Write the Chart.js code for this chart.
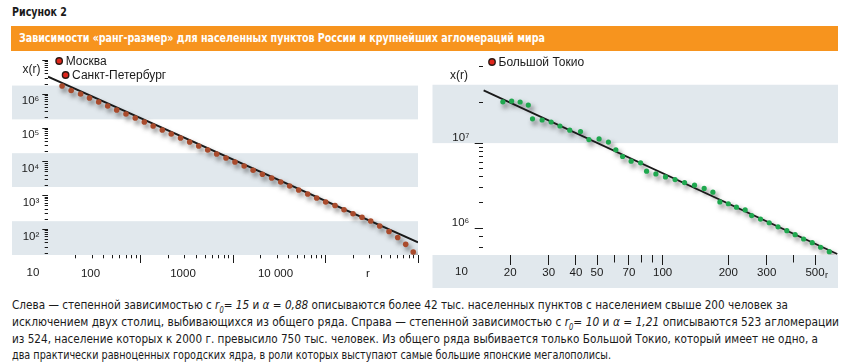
<!DOCTYPE html>
<html lang="ru">
<head>
<meta charset="utf-8">
<title>Рисунок 2</title>
<script src="https://cdn.jsdelivr.net/npm/chart.js@4.4.1/dist/chart.umd.min.js"></script>
<style>
  html, body { margin: 0; padding: 0; background: #fff; }
  body { width: 850px; height: 362px; position: relative; overflow: hidden; color: #1a1a1a;
         font-family: "Liberation Sans Narrow", "DejaVu Sans Condensed", "Liberation Sans", Arial, sans-serif; }
  .fit { position: absolute; white-space: nowrap; transform-origin: 0 50%; }
  #fig { left: 12px; top: 4px; font-size: 13px; line-height: 16px; font-weight: bold; }
  #banner { position: absolute; left: 11px; top: 26px; width: 827px; height: 25px; background: #F7941E; }
  #bannerText { left: 19px; top: 26px; font-size: 12px; line-height: 25px; font-weight: bold; color: #fff; }
  .cap { left: 12px; font-size: 12.5px; line-height: 16px; }
  canvas { position: absolute; top: 40px; }
  #left { left: 0; }
  #right { left: 430px; }
</style>
</head>
<body>
<div id="fig" class="fit" data-w="55">Рисунок 2</div>
<div id="banner"></div>
<div id="bannerText" class="fit" data-w="526">Зависимости «ранг-размер» для населенных пунктов России и крупнейших агломераций мира</div>

<canvas id="left" width="428" height="250"></canvas>
<canvas id="right" width="420" height="250"></canvas>

<div class="cap fit" style="top:297px" data-w="776">Слева — степенной зависимостью с <i>r<sub style="font-size:8px">0</sub>= 15</i> и <i>α = 0,88</i> описываются более 42 тыс. населенных пунктов с населением свыше 200 человек за</div>
<div class="cap fit" style="top:314px" data-w="827">исключением двух столиц, выбивающихся из общего ряда. Справа — степенной зависимостью с <i>r<sub style="font-size:8px">0</sub>= 10</i> и <i>α = 1,21</i> описываются 523 агломерации</div>
<div class="cap fit" style="top:331px" data-w="806">из 524, население которых к 2000 г. превысило 750 тыс. человек. Из общего ряда выбивается только Большой Токио, который имеет не одно, а</div>
<div class="cap fit" style="top:347px" data-w="599">два практически равноценных городских ядра, в роли которых выступают самые большие японские мегалополисы.</div>

<script>
// ---- left panel: settlements of Russia (rank r, population x(r)) ----
const leftRank = [14.2, 17.8, 22.5, 28.1, 35.3, 44.2, 55.3, 69.7, 87.7, 110, 137, 172, 215, 271, 340, 426,
  533, 666, 840, 1050, 1320, 1650, 2080, 2620, 3280, 4100, 5130, 6420, 8030, 10050, 12670, 15850, 19830,
  24810, 30810, 38540, 48600, 60340, 73620, 88770];
const leftPop = [1748000, 1287000, 1014000, 772000, 588000, 448000, 341000, 260000, 197600, 150500, 114600,
  87300, 66400, 50600, 38500, 29300, 22340, 17010, 12950, 9860, 7510, 5600, 4300, 3320, 2530, 1923, 1465,
  1115, 849, 647, 510, 380, 291, 228, 177, 126, 86.7, 57.6, 36.2, 21.4];
const capitalNames = ['Москва', 'Санкт-Петербург'];
const capitalRank = [13.2, 15.5];
const capitalPop = [9.6e6, 3.7e6];
const leftFitRank = [10, 100000];
const leftFitPop = [3.3e6, 41.5];

const leftXTicks = [100, 1000, 10000, 100000];
const leftXLabels = ['100', '1000', '10 000', 'r'];
const leftYTicks = [100, 1e3, 1e4, 1e5, 1e6, 1e7];
const leftYLabels = ['10²', '10³', '10⁴', '10⁵', '10⁶', ''];
const leftBands = [[17.5, 175], [1800, 18000], [180000, 1800000]];

// ---- right panel: world agglomerations ----
const rightRank = [18.5, 20.3, 22.2, 24.2, 25.3, 28.0, 30.8, 33.8, 37.5, 42.0, 45.9, 51.1, 56.4, 61.0, 65.5,
  71.7, 79.2, 84.4, 93.1, 103, 114, 126, 140, 155, 170, 183, 200, 218, 239, 256, 281, 308, 338, 371, 405,
  443, 485, 530, 581];
const rightPop = [30.6e6, 31.2e6, 30.4e6, 28.0e6, 19.3e6, 18.7e6, 17.7e6, 15.9e6, 14.2e6, 13.7e6, 11.0e6,
  11.2e6, 10.3e6, 8.34e6, 6.96e6, 6.14e6, 5.87e6, 4.68e6, 4.35e6, 4.01e6, 3.73e6, 3.44e6, 3.21e6, 2.94e6,
  2.65e6, 2.04e6, 1.94e6, 1.77e6, 1.64e6, 1.41e6, 1.28e6, 1.16e6, 1.04e6, 937000, 841000, 748000, 677000,
  598000, 530000];
const tokyoNames = ['Большой Токио'];
const tokyoRank = [16.5];
const tokyoPop = [8.98e7];
const rightFitRank = [15.1, 632];
const rightFitPop = [4.16e7, 4.99e5];

const rightXTicks = [20, 30, 40, 50, 70, 100, 200, 300, 500];
const rightXLabels = ['20', '30', '40', '50', '70', '100', '200', '300', '500'];
const rightXMinor = [60, 80, 90, 400];
const rightYTicks = [1e6, 1e7];
const rightYLabels = ['10⁶', '10⁷'];
const rightYMinor = [6e5, 8e5, 2e6, 3e6, 4e6, 5e6, 6e6, 7e6, 8e6, 9e6, 3e7, 8e7];
const rightBands = [[1e7, 4.85e7]];

const INK = '#1a1a1a';
const BAND = '#E1E8ED';
const TICK_FONT = { family: '"Liberation Sans", Arial, sans-serif', size: 11.5 };
Chart.defaults.font.family = TICK_FONT.family;
Chart.defaults.color = INK;

const zip = (xs, ys) => xs.map((x, i) => ({ x, y: ys[i] }));

// 2..9 multiples of every decade between lo and hi
function decadeMinors(lo, hi) {
  const out = [];
  for (let d = lo; d < hi; d *= 10) for (let k = 2; k <= 9; k++) out.push(k * d);
  return out;
}

const same = (a, b) => Math.abs(a - b) / b < 1e-9;

function logAxis({ pos, min, max, ticks, labels, minor, tickLen, minorLen, pad, offset, size }) {
  const all = ticks.concat(minor).sort((a, b) => a - b);
  const isMain = v => ticks.some(t => same(v, t));
  return {
    type: 'logarithmic', position: pos, min, max,
    border: { display: false },
    grid: {
      drawOnChartArea: false, drawTicks: true, tickLength: tickLen, tickWidth: 1, tickColor: INK,
      tickBorderDash: ctx => {
        if (!ctx.tick || isMain(ctx.tick.value)) return [];
        // left axes draw ticks from outside in, bottom axes from the axis down
        return pos === 'left' ? [0, tickLen - minorLen, minorLen, 100] : [minorLen, 100];
      }
    },
    ticks: {
      autoSkip: false, maxRotation: 0, minRotation: 0, padding: pad, labelOffset: offset,
      color: INK, font: TICK_FONT,
      callback: v => { const i = ticks.findIndex(t => same(v, t)); return i < 0 ? '' : labels[i]; }
    },
    afterBuildTicks: s => { s.ticks = all.map(v => ({ value: v })); },
    afterFit: s => { if (pos === 'left') s.width = size; else s.height = size; }
  };
}

function bandsPlugin(ranges, extendLeft, axisBar) {
  return {
    id: 'bands',
    beforeDraw(chart) {
      const { ctx, chartArea: a, scales: { y } } = chart;
      const left = a.left - extendLeft;
      ctx.save();
      ctx.fillStyle = BAND;
      ranges.forEach(([lo, hi]) => {
        const top = Math.max(y.getPixelForValue(hi), a.top);
        const bot = Math.min(y.getPixelForValue(lo), a.bottom);
        ctx.fillRect(left, top, a.right - left, bot - top);
      });
      if (axisBar) ctx.fillRect(left, a.bottom, a.right - left, axisBar);
      ctx.restore();
    }
  };
}

const shadowPlugin = {
  id: 'dotShadow',
  beforeDatasetDraw(chart, args) {
    if (!chart.data.datasets[args.index].shadow) return;
    const c = chart.ctx;
    c.save();
    c.shadowColor = 'rgba(35,35,35,0.7)';
    c.shadowBlur = 5;
    c.shadowOffsetX = 2.5;
    c.shadowOffsetY = 3.5;
  },
  afterDatasetDraw(chart, args) {
    if (chart.data.datasets[args.index].shadow) chart.ctx.restore();
  }
};

// axis captions and the names of the highlighted cities
function notesPlugin(cfg) {
  return {
    id: 'notes',
    afterDraw(chart) {
      const { ctx, chartArea: a } = chart;
      ctx.save();
      ctx.fillStyle = INK;
      ctx.textBaseline = 'middle';
      ctx.font = '12px "Liberation Sans", Arial, sans-serif';
      ctx.textAlign = 'center';
      ctx.fillText('x(r)', a.left + cfg.xr[0], a.top + cfg.xr[1]);
      ctx.font = '11.5px "Liberation Sans", Arial, sans-serif';
      ctx.fillText('10', a.left + cfg.ten[0], a.bottom + cfg.ten[1]);
      ctx.font = '12px "Liberation Sans", Arial, sans-serif';
      ctx.textAlign = 'left';
      const ds = chart.data.datasets.find(d => d.names);
      const meta = chart.getDatasetMeta(chart.data.datasets.indexOf(ds));
      meta.data.forEach((pt, i) => ctx.fillText(ds.names[i], pt.x + 6.5, pt.y + 0.5));
      if (cfg.sub) {
        ctx.font = '9px "Liberation Sans", Arial, sans-serif';
        ctx.fillText('r', chart.scales.x.getPixelForValue(cfg.sub) + 10, a.bottom + 21);
      }
      ctx.restore();
    }
  };
}

function panel(id, o) {
  return new Chart(document.getElementById(id), {
    type: 'scatter',
    data: {
      datasets: [
        { data: o.fit, showLine: true, borderColor: INK, borderWidth: 1.8, pointRadius: 0, order: 3 },
        { data: o.points, backgroundColor: o.color, borderWidth: 0, pointRadius: o.radius, shadow: true, order: 2 },
        { data: o.cities, names: o.names, backgroundColor: '#E0261B', borderColor: '#2e1a14',
          borderWidth: 1.4, pointRadius: 3.2, order: 1 }
      ]
    },
    options: {
      responsive: false, animation: false, devicePixelRatio: 1, events: [],
      layout: { padding: o.padding, autoPadding: false },
      plugins: { legend: { display: false }, tooltip: { enabled: false } },
      scales: { x: o.x, y: o.y }
    },
    plugins: [bandsPlugin(o.bands, o.extendLeft, o.axisBar), shadowPlugin, notesPlugin(o.notes)]
  });
}

panel('left', {
  points: zip(leftRank, leftPop),
  cities: zip(capitalRank, capitalPop),
  names: capitalNames,
  fit: zip(leftFitRank, leftFitPop),
  color: '#A94B2C', radius: 2.8,
  padding: { left: 0, top: 17, right: 10, bottom: 5 },
  bands: leftBands, extendLeft: 36, axisBar: 0,
  notes: { xr: [-16.5, 13], ten: [-15, 18.3] },
  x: logAxis({ pos: 'bottom', min: 10, max: 100000, ticks: leftXTicks, labels: leftXLabels,
    minor: decadeMinors(10, 100000), tickLen: 8, minorLen: 3.3, pad: 4, offset: -50, size: 30 }),
  y: logAxis({ pos: 'left', min: 17.5, max: 1.26e7, ticks: leftYTicks, labels: leftYLabels,
    minor: decadeMinors(10, 1e7).filter(v => v > 17.5), tickLen: 5.7, minorLen: 3.3, pad: 3, offset: 7, size: 48 })
});

panel('right', {
  points: zip(rightRank, rightPop),
  cities: zip(tokyoRank, tokyoPop),
  names: tokyoNames,
  fit: zip(rightFitRank, rightFitPop),
  color: '#1FA84F', radius: 2.6,
  padding: { left: 0, top: 18, right: 12, bottom: 5 },
  bands: rightBands, extendLeft: 50.5, axisBar: 33,
  notes: { xr: [-24, 17.7], ten: [-21.5, 17], sub: 500 },
  x: logAxis({ pos: 'bottom', min: 15, max: 637, ticks: rightXTicks, labels: rightXLabels,
    minor: rightXMinor, tickLen: 10, minorLen: 7.5, pad: 1, offset: 0, size: 30 }),
  y: logAxis({ pos: 'left', min: 4.85e5, max: 1e8, ticks: rightYTicks, labels: rightYLabels,
    minor: rightYMinor, tickLen: 8.3, minorLen: 4, pad: 5.4, offset: -5, size: 53 })
});

// squeeze the text blocks to the widths of the printed figure
function fitText() {
  document.querySelectorAll('.fit').forEach(el => {
    el.style.transform = 'none';
    const w = el.getBoundingClientRect().width;
    el.style.transform = 'scaleX(' + (parseFloat(el.dataset.w) / w) + ')';
  });
}
fitText();
if (document.fonts) document.fonts.ready.then(fitText);
</script>
</body>
</html>
